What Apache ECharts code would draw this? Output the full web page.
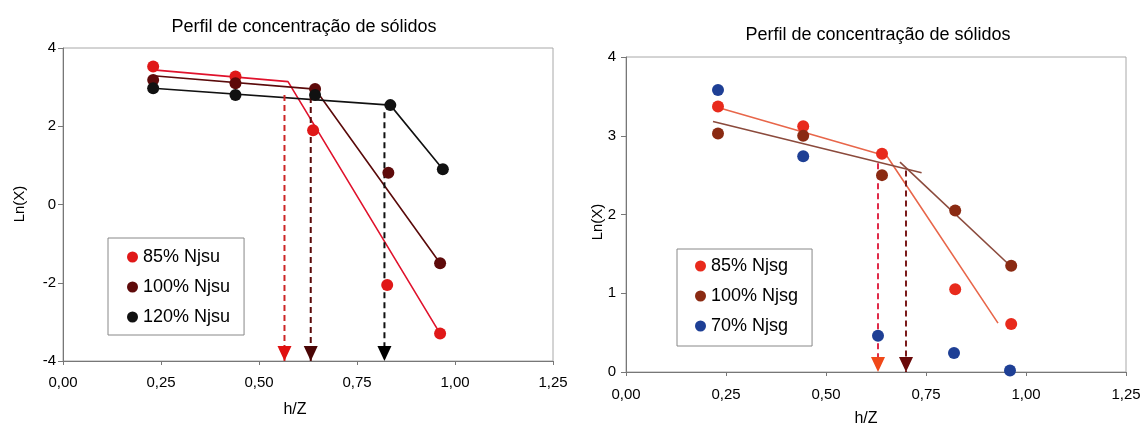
<!DOCTYPE html>
<html><head><meta charset="utf-8">
<script src="https://cdn.jsdelivr.net/npm/echarts/dist/echarts.min.js"></script>
<style>html,body{margin:0;padding:0;background:#fff}#c{width:1144px;height:427px}</style>
</head><body><div id="c"></div>
<script>
// ---------- data ----------
const chartTitle = 'Perfil de concentração de sólidos';
const xTickLabels = ['0,00', '0,25', '0,50', '0,75', '1,00', '1,25'];
const leftYTickLabels = ['-4', '-2', '0', '2', '4'];
const rightYTickLabels = ['0', '1', '2', '3', '4'];
const xAxisName = 'h/Z';
const yAxisName = 'Ln(X)';

// Left chart (Njsu)
const leftNames = ['85% Njsu', '100% Njsu', '120% Njsu'];
const njsu85 = [[0.23, 3.53], [0.44, 3.27], [0.638, 1.9], [0.827, -2.06], [0.962, -3.3]];
const njsu100 = [[0.23, 3.18], [0.44, 3.1], [0.643, 2.95], [0.83, 0.81], [0.962, -1.5]];
const njsu120 = [[0.23, 2.97], [0.44, 2.8], [0.643, 2.8], [0.835, 2.54], [0.969, 0.9]];
const fitNjsu85 = [[0.23, 3.44], [0.574, 3.14], [0.962, -3.3]];
const fitNjsu100 = [[0.23, 3.29], [0.643, 2.95], [0.962, -1.5]];
const fitNjsu120 = [[0.23, 2.97], [0.835, 2.54], [0.969, 0.9]];
const leftArrowH = [0.565, 0.632, 0.82];
const leftArrowTop = [2.8, 2.75, 2.36];

// Right chart (Njsg)
const rightNames = ['85% Njsg', '100% Njsg', '70% Njsg'];
const njsg85 = [[0.23, 3.37], [0.443, 3.12], [0.64, 2.77], [0.823, 1.05], [0.963, 0.61]];
const njsg100 = [[0.23, 3.03], [0.443, 3.0], [0.64, 2.5], [0.823, 2.05], [0.963, 1.35]];
const njsg70 = [[0.23, 3.58], [0.443, 2.74], [0.63, 0.46], [0.82, 0.24], [0.96, 0.02]];
const fitNjsg85 = [[0.23, 3.36], [0.6525, 2.74], [0.93, 0.62]];
const fitNjsg100a = [[0.2175, 3.18], [0.739, 2.53]];
const fitNjsg100b = [[0.685, 2.665], [0.9625, 1.34]];
const rightArrowH = [0.63, 0.70];
const rightArrowTop = [2.65, 2.56];

// ---------- styles ----------
const FONT = '"Liberation Sans", Arial, sans-serif';
const leftColors = ['#e01818', '#5e0a0a', '#111111'];
const leftFitColors = ['#e0122c', '#5a0a0a', '#111111'];
const leftDashColors = ['#cc2626', '#5a0a0a', '#111111'];
const leftArrowColors = ['#e01010', '#4a0505', '#000000'];
const rightColors = ['#e82a1c', '#8a2a12', '#1e3f95'];
const rightFitColors = ['#e8664a', '#8b4a3c'];
const rightDashColors = ['#e02a48', '#7a1a1a'];
const rightArrowColors = ['#f04818', '#6a0a0a'];

const LMIN = -4, LMAX = 4, RMIN = 0, RMAX = 4;

function xAxisCfg(gridIndex, margin) {
  return {
    type: 'value', gridIndex, min: 0, max: 1.25, interval: 0.25,
    axisLine: { show: true, onZero: false, lineStyle: { color: '#777', width: 1 } },
    axisTick: { show: true, length: 4, lineStyle: { color: '#777' } },
    splitLine: { show: false },
    axisLabel: {
      margin, color: '#000', fontSize: 15, fontFamily: FONT,
      formatter: v => xTickLabels[Math.round(v / 0.25)]
    }
  };
}
function yAxisCfg(gridIndex, min, max, interval, labels, margin) {
  return {
    type: 'value', gridIndex, min, max, interval,
    axisLine: { show: true, onZero: false, lineStyle: { color: '#777', width: 1 } },
    axisTick: { show: true, length: 5, lineStyle: { color: '#777' } },
    splitLine: { show: false },
    axisLabel: {
      margin, color: '#000', fontSize: 15, fontFamily: FONT,
      formatter: v => labels[Math.round((v - min) / interval)]
    }
  };
}

const series = [];
function fitLine(idx, data, color) {
  series.push({ type: 'line', xAxisIndex: idx, yAxisIndex: idx, data, symbol: 'none',
    lineStyle: { color, width: 1.6, opacity: 1 }, silent: true, z: 2 });
}
function arrow(idx, h, top, min, dashColor, headColor, headSize, offset) {
  series.push({ type: 'line', xAxisIndex: idx, yAxisIndex: idx, data: [[h, top], [h, min]],
    symbol: 'none', lineStyle: { color: dashColor, width: 2, type: [6, 4] }, silent: true, z: 3 });
  series.push({ type: 'scatter', xAxisIndex: idx, yAxisIndex: idx, data: [[h, min]], clip: false,
    symbol: 'triangle', symbolRotate: 180, symbolSize: headSize, symbolOffset: [0, offset],
    itemStyle: { color: headColor, opacity: 1 }, silent: true, z: 4 });
}
function points(idx, name, data, color) {
  series.push({ type: 'scatter', name, xAxisIndex: idx, yAxisIndex: idx, data,
    symbol: 'circle', symbolSize: 12, itemStyle: { color, opacity: 1 }, z: 5, clip: false });
}

// left
fitLine(0, fitNjsu85, leftFitColors[0]);
fitLine(0, fitNjsu100, leftFitColors[1]);
fitLine(0, fitNjsu120, leftFitColors[2]);
leftArrowH.forEach((h, i) => arrow(0, h, leftArrowTop[i], LMIN, leftDashColors[i], leftArrowColors[i], [14, 15], -7.5));
points(0, leftNames[0], njsu85, leftColors[0]);
points(0, leftNames[1], njsu100, leftColors[1]);
points(0, leftNames[2], njsu120, leftColors[2]);

// right
fitLine(1, fitNjsg85, rightFitColors[0]);
fitLine(1, fitNjsg100a, rightFitColors[1]);
fitLine(1, fitNjsg100b, rightFitColors[1]);
rightArrowH.forEach((h, i) => arrow(1, h, rightArrowTop[i], RMIN, rightDashColors[i], rightArrowColors[i], [14, 15], -7.5));
points(1, rightNames[0], njsg85, rightColors[0]);
points(1, rightNames[1], njsg100, rightColors[1]);
points(1, rightNames[2], njsg70, rightColors[2]);

function legendCfg(names, left, top, padding) {
  return {
    data: names, orient: 'vertical', left, top, padding,
    backgroundColor: '#fff', borderColor: '#888', borderWidth: 1,
    icon: 'circle', itemWidth: 11, itemHeight: 11, itemGap: 12, selectedMode: false,
    itemStyle: { opacity: 1 },
    textStyle: { fontSize: 18, lineHeight: 18, color: '#000', fontFamily: FONT }
  };
}

function txt(text, x, y, size, rotate) {
  return { type: 'text', x, y, rotation: rotate || 0, silent: true,
    style: { text, fontSize: size, fontFamily: FONT, fill: '#000', align: 'center', verticalAlign: 'middle' } };
}

const option = {
  animation: false,
  backgroundColor: '#fff',
  grid: [
    { left: 63, top: 48, width: 490, height: 313, show: true, borderColor: '#a8a8a8', borderWidth: 1, backgroundColor: 'transparent' },
    { left: 626, top: 57, width: 500, height: 315, show: true, borderColor: '#a8a8a8', borderWidth: 1, backgroundColor: 'transparent' }
  ],
  xAxis: [xAxisCfg(0, 14), xAxisCfg(1, 15)],
  yAxis: [
    yAxisCfg(0, LMIN, LMAX, 2, leftYTickLabels, 7),
    yAxisCfg(1, RMIN, RMAX, 1, rightYTickLabels, 10)
  ],
  legend: [
    legendCfg(leftNames, 108, 238, [10, 14, 9, 19]),
    legendCfg(rightNames, 677, 249, [8, 14, 11, 18])
  ],
  graphic: [
    txt(chartTitle, 304, 27, 18),
    txt(chartTitle, 878, 35, 18),
    txt(yAxisName, 20, 204, 15, Math.PI / 2),
    txt(yAxisName, 598, 222, 15, Math.PI / 2),
    txt(xAxisName, 295, 410, 16),
    txt(xAxisName, 866, 419, 16)
  ],
  series
};
echarts.init(document.getElementById('c'), null, { renderer: 'canvas' }).setOption(option);
</script>
</body></html>
